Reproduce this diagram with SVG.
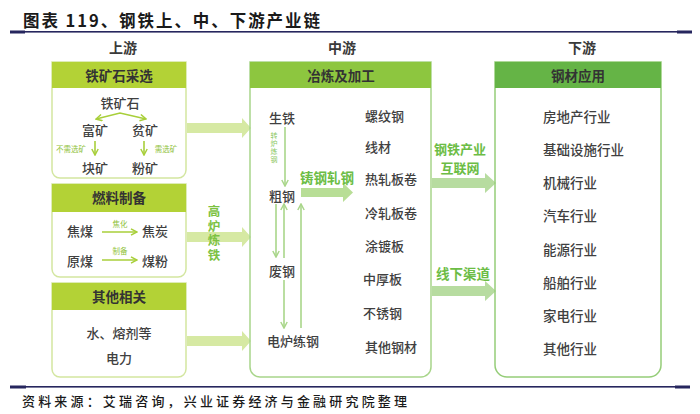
<svg xmlns="http://www.w3.org/2000/svg" width="700" height="414" viewBox="0 0 700 414">
<style>
  text { font-family: "Noto Sans CJK SC", "Noto Sans", sans-serif; }
  .t { font-size: 13px; fill: #404040; text-anchor: middle; dominant-baseline: central; font-weight: 500; }
  .tl { font-size: 13px; fill: #404040; text-anchor: start; dominant-baseline: central; font-weight: 500; }
  .r { font-size: 13.5px; fill: #404040; text-anchor: start; dominant-baseline: central; font-weight: 500; }
  .hd { font-size: 13.5px; fill: #333333; text-anchor: middle; dominant-baseline: central; font-weight: 700; }
  .col { font-size: 14px; fill: #3a3a3a; text-anchor: middle; dominant-baseline: central; font-weight: 700; }
  .g { font-size: 13.5px; fill: #6cbd45; text-anchor: middle; dominant-baseline: central; font-weight: 700; }
  .g2 { font-size: 13px; fill: #6cbd45; text-anchor: middle; dominant-baseline: central; font-weight: 700; }
  .gv { font-size: 12.5px; fill: #7cc242; font-weight: 700; writing-mode: tb; letter-spacing: 2px; }
  .sm { font-size: 7.5px; fill: #8fc23a; text-anchor: middle; dominant-baseline: central; }
  .smv { font-size: 7px; fill: #8cc864; writing-mode: tb; letter-spacing: 1px; }
  .la { stroke: #a8cf3a; stroke-width: 1.6; fill: none; }
  .ma { stroke: #a9d68a; stroke-width: 1.6; fill: none; }
</style>
<defs>
  <marker id="chL" viewBox="0 0 8 8" refX="7" refY="4" markerWidth="8" markerHeight="8" markerUnits="userSpaceOnUse" orient="auto-start-reverse">
    <path d="M1,0.8 L7,4 L1,7.2" fill="none" stroke="#a8cf3a" stroke-width="1.5"/>
  </marker>
  <marker id="chM" viewBox="0 0 8 8" refX="7" refY="4" markerWidth="8" markerHeight="8" markerUnits="userSpaceOnUse" orient="auto-start-reverse">
    <path d="M1,0.8 L7,4 L1,7.2" fill="none" stroke="#a9d68a" stroke-width="1.5"/>
  </marker>
</defs>

<!-- title -->
<text x="23" y="20" font-size="16.5" font-weight="700" fill="#1a1a1a" dominant-baseline="central" textLength="297" lengthAdjust="spacing">图表 119、钢铁上、中、下游产业链</text>
<rect x="10" y="31" width="682" height="1.6" fill="#26265e"/>
<rect x="10" y="30.5" width="15" height="3" fill="#26265e"/>
<rect x="677" y="30.5" width="15" height="3" fill="#26265e"/>

<!-- column headers -->
<text class="col" x="123" y="47">上游</text>
<text class="col" x="342" y="47">中游</text>
<text class="col" x="582" y="47">下游</text>

<!-- connectors (block arrows) -->
<g id="connectors">
  <polygon fill="#d6e9a3" points="187,123 242,123 242,118 251,128 242,138 242,133 187,133"/>
  <polygon fill="#d6e9a3" points="187,232 242,232 242,227 251,237 242,247 242,242 187,242"/>
  <polygon fill="#d6e9a3" points="187,336 242,336 242,331 251,341 242,351 242,346 187,346"/>
  <polygon fill="#b7dca0" points="432,178 485,178 485,173 496,183 485,193 485,188 432,188"/>
  <polygon fill="#b7dca0" points="432,286 485,286 485,281 496,291 485,301 485,296 432,296"/>
  <polygon fill="#b8de96" points="301,188 343,188 343,183 353,192.5 343,202 343,197 301,197"/>
  <!-- middle thin arrows -->
  <line class="ma" x1="285" y1="127" x2="285" y2="186" marker-end="url(#chM)"/>
  <line class="ma" x1="276" y1="204" x2="276" y2="257" marker-end="url(#chM)"/>
  <line class="ma" x1="284" y1="258" x2="284" y2="204" marker-end="url(#chM)"/>
  <line class="ma" x1="301" y1="328" x2="301" y2="204" marker-end="url(#chM)"/>
  <line class="ma" x1="284" y1="280" x2="284" y2="328" marker-end="url(#chM)"/>
</g>
<text class="gv" x="214" y="205">高炉炼铁</text>
<text class="g2" x="460" y="148.5">钢铁产业</text>
<text class="g2" x="460" y="167.5">互联网</text>
<text class="g" x="463" y="273">线下渠道</text>

<!-- box 1 -->
<g id="node-ore">
  <path d="M52,62 H186 V170 A8,8 0 0 1 178,178 H60 A8,8 0 0 1 52,170 Z" fill="#ffffff" stroke="#d3e6a0" stroke-width="1.5"/>
  <rect x="52" y="62" width="134" height="26" fill="#b3d236"/>
  <text class="hd" x="119" y="75">铁矿石采选</text>
  <text class="t" x="120" y="102">铁矿石</text>
  <polyline class="la" points="96,119 120,113 146,119" marker-start="url(#chL)" marker-end="url(#chL)"/>
  <text class="t" x="95" y="129">富矿</text>
  <text class="t" x="145" y="129">贫矿</text>
  <line class="la" x1="95" y1="141" x2="95" y2="155" marker-end="url(#chL)"/>
  <line class="la" x1="144" y1="141" x2="144" y2="155" marker-end="url(#chL)"/>
  <text class="sm" x="71" y="148">不需选矿</text>
  <text class="sm" x="166" y="148">需选矿</text>
  <text class="t" x="95" y="167">块矿</text>
  <text class="t" x="145" y="167">粉矿</text>
</g>

<!-- box 2 -->
<g id="node-fuel">
  <path d="M52,184 H186 V269 A8,8 0 0 1 178,277 H60 A8,8 0 0 1 52,269 Z" fill="#ffffff" stroke="#d3e6a0" stroke-width="1.5"/>
  <rect x="52" y="184" width="134" height="28" fill="#b3d236"/>
  <text class="hd" x="119" y="197">燃料制备</text>
  <text class="t" x="80" y="230">焦煤</text>
  <line class="la" x1="102" y1="232" x2="137" y2="232" marker-end="url(#chL)"/>
  <text class="sm" x="120" y="223">焦化</text>
  <text class="t" x="155" y="230">焦炭</text>
  <text class="t" x="80" y="260">原煤</text>
  <line class="la" x1="102" y1="260" x2="137" y2="260" marker-end="url(#chL)"/>
  <text class="sm" x="120" y="250">制备</text>
  <text class="t" x="155" y="260">煤粉</text>
</g>

<!-- box 3 -->
<g id="node-other">
  <path d="M52,283 H186 V369 A8,8 0 0 1 178,377 H60 A8,8 0 0 1 52,369 Z" fill="#ffffff" stroke="#d3e6a0" stroke-width="1.5"/>
  <rect x="52" y="283" width="134" height="27" fill="#b3d236"/>
  <text class="hd" x="119" y="296">其他相关</text>
  <text class="t" x="119" y="332">水、熔剂等</text>
  <text class="t" x="119" y="357">电力</text>
</g>

<!-- middle box -->
<g id="node-smelt">
  <path d="M250,62 H431 V367 A10,10 0 0 1 421,377 H260 A10,10 0 0 1 250,367 Z" fill="none" stroke="#a8d58a" stroke-width="1.5"/>
  <rect x="250" y="62" width="181" height="26" fill="#8dc63f"/>
  <text class="hd" x="341" y="75">冶炼及加工</text>
  <text class="t" x="282" y="117">生铁</text>
  <text class="smv" x="274" y="132">转炉炼钢</text>
  <text class="t" x="282" y="195">粗钢</text>
  <text class="g" x="327" y="177">铸钢轧钢</text>
  <text class="t" x="282" y="270">废钢</text>
  <text class="t" x="293" y="340">电炉练钢</text>
  <text class="tl" x="365" y="115">螺纹钢</text>
  <text class="tl" x="365" y="146">线材</text>
  <text class="tl" x="365" y="178">热轧板卷</text>
  <text class="tl" x="365" y="212">冷轧板卷</text>
  <text class="tl" x="365" y="245">涂镀板</text>
  <text class="tl" x="363" y="278">中厚板</text>
  <text class="tl" x="363" y="312">不锈钢</text>
  <text class="tl" x="365" y="346">其他钢材</text>
</g>

<!-- right box -->
<g id="node-app">
  <path d="M495,62 H661 V365 A12,12 0 0 1 649,377 H507 A12,12 0 0 1 495,365 Z" fill="none" stroke="#95cd78" stroke-width="1.5"/>
  <rect x="495" y="62" width="166" height="26" fill="#65b446"/>
  <text class="hd" x="578" y="75">钢材应用</text>
  <text class="r" x="543" y="116">房地产行业</text>
  <text class="r" x="543" y="149">基础设施行业</text>
  <text class="r" x="543" y="182">机械行业</text>
  <text class="r" x="543" y="215">汽车行业</text>
  <text class="r" x="543" y="249">能源行业</text>
  <text class="r" x="543" y="282">船舶行业</text>
  <text class="r" x="543" y="315">家电行业</text>
  <text class="r" x="543" y="348">其他行业</text>
</g>

<!-- footer -->
<rect x="10" y="386" width="680" height="1.6" fill="#26265e"/>
<rect x="10" y="385.5" width="16" height="3" fill="#26265e"/>
<rect x="675" y="385.5" width="15" height="3" fill="#26265e"/>
<text x="22" y="400" font-size="13" font-weight="500" fill="#1a1a1a" dominant-baseline="central" textLength="385" lengthAdjust="spacing">资料来源：艾瑞咨询，兴业证券经济与金融研究院整理</text>
</svg>
